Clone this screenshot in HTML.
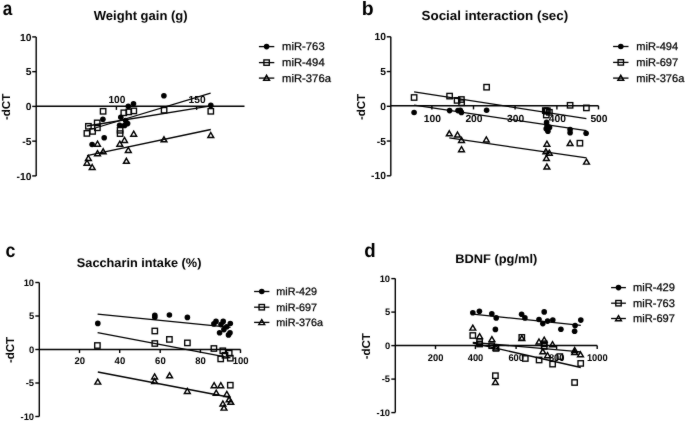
<!DOCTYPE html>
<html><head><meta charset="utf-8"><style>
html,body{margin:0;padding:0;background:#fff;}
svg{display:block;will-change:transform;}
svg text{font-family:"Liberation Sans", sans-serif;fill:#000;stroke:none;text-rendering:geometricPrecision;}
svg text.r{stroke:#000;stroke-width:0.25px;}
</style></head><body>
<svg width="685" height="421" viewBox="0 0 685 421">
<defs><filter id="bl" x="0" y="0" width="685" height="421" filterUnits="userSpaceOnUse"><feConvolveMatrix order="3" kernelMatrix="1 2 1 2 36 2 1 2 1" divisor="48" edgeMode="duplicate" preserveAlpha="false"/></filter></defs>
<rect width="685" height="421" fill="#fff"/>
<g stroke="#000" fill="none" filter="url(#bl)">
<text x="2.80" y="15.00" font-size="19.5" font-weight="bold" text-anchor="start"  textLength="9.54" lengthAdjust="spacingAndGlyphs">a</text>
<text x="93.79" y="20.30" font-size="13" font-weight="bold" text-anchor="start"  textLength="93.86" lengthAdjust="spacingAndGlyphs">Weight gain (g)</text>
<line x1="36.20" y1="36.90" x2="36.20" y2="175.90" stroke-width="1.4"/>
<line x1="32.20" y1="36.90" x2="36.20" y2="36.90" stroke-width="1.4"/>
<text x="31.40" y="40.50" font-size="10.3" font-weight="bold" text-anchor="end" >10</text>
<line x1="32.20" y1="71.65" x2="36.20" y2="71.65" stroke-width="1.4"/>
<text x="31.40" y="75.26" font-size="10.3" font-weight="bold" text-anchor="end" >5</text>
<line x1="32.20" y1="106.40" x2="36.20" y2="106.40" stroke-width="1.4"/>
<text x="31.40" y="110.01" font-size="10.3" font-weight="bold" text-anchor="end" >0</text>
<line x1="32.20" y1="141.15" x2="36.20" y2="141.15" stroke-width="1.4"/>
<text x="31.40" y="144.75" font-size="10.3" font-weight="bold" text-anchor="end" >-5</text>
<line x1="32.20" y1="175.90" x2="36.20" y2="175.90" stroke-width="1.4"/>
<text x="31.40" y="179.50" font-size="10.3" font-weight="bold" text-anchor="end" >-10</text>
<text transform="translate(10.00,106.90) rotate(-90)" font-size="11.5" font-weight="bold" text-anchor="middle">-dCT</text>
<line x1="36.20" y1="106.30" x2="244.50" y2="106.30" stroke-width="1.4"/>
<line x1="116.40" y1="106.30" x2="116.40" y2="109.90" stroke-width="1.4"/>
<text x="116.90" y="102.90" font-size="10.3" font-weight="bold" text-anchor="middle"  textLength="17.01" lengthAdjust="spacingAndGlyphs">100</text>
<line x1="196.60" y1="106.30" x2="196.60" y2="109.90" stroke-width="1.4"/>
<text x="197.10" y="102.90" font-size="10.3" font-weight="bold" text-anchor="middle"  textLength="17.01" lengthAdjust="spacingAndGlyphs">150</text>
<line x1="92.00" y1="129.00" x2="210.60" y2="93.20" stroke-width="1.3"/>
<line x1="87.00" y1="126.00" x2="210.80" y2="105.80" stroke-width="1.3"/>
<line x1="87.00" y1="155.60" x2="210.80" y2="129.50" stroke-width="1.3"/>
<circle cx="163.90" cy="95.80" r="2.80" fill="#000" stroke="none"/>
<circle cx="133.50" cy="103.70" r="2.80" fill="#000" stroke="none"/>
<circle cx="128.30" cy="106.30" r="2.80" fill="#000" stroke="none"/>
<circle cx="210.80" cy="105.40" r="2.80" fill="#000" stroke="none"/>
<circle cx="102.90" cy="119.30" r="2.80" fill="#000" stroke="none"/>
<circle cx="120.80" cy="117.20" r="2.80" fill="#000" stroke="none"/>
<circle cx="125.60" cy="120.60" r="2.80" fill="#000" stroke="none"/>
<circle cx="127.60" cy="123.60" r="2.80" fill="#000" stroke="none"/>
<circle cx="124.60" cy="125.40" r="2.80" fill="#000" stroke="none"/>
<circle cx="119.60" cy="125.30" r="2.80" fill="#000" stroke="none"/>
<circle cx="104.20" cy="137.70" r="2.80" fill="#000" stroke="none"/>
<circle cx="92.10" cy="144.50" r="2.80" fill="#000" stroke="none"/>
<rect x="100.40" y="108.60" width="5.40" height="5.40" fill="none" stroke-width="1.35"/>
<rect x="121.10" y="110.10" width="5.40" height="5.40" fill="none" stroke-width="1.35"/>
<rect x="126.10" y="109.20" width="5.40" height="5.40" fill="none" stroke-width="1.35"/>
<rect x="131.10" y="108.20" width="5.40" height="5.40" fill="none" stroke-width="1.35"/>
<rect x="161.40" y="107.50" width="5.40" height="5.40" fill="none" stroke-width="1.35"/>
<rect x="208.10" y="108.60" width="5.40" height="5.40" fill="none" stroke-width="1.35"/>
<rect x="94.50" y="120.20" width="5.40" height="5.40" fill="none" stroke-width="1.35"/>
<rect x="94.70" y="125.10" width="5.40" height="5.40" fill="none" stroke-width="1.35"/>
<rect x="85.70" y="123.60" width="5.40" height="5.40" fill="none" stroke-width="1.35"/>
<rect x="89.90" y="128.70" width="5.40" height="5.40" fill="none" stroke-width="1.35"/>
<rect x="84.20" y="130.70" width="5.40" height="5.40" fill="none" stroke-width="1.35"/>
<rect x="117.40" y="127.60" width="5.40" height="5.40" fill="none" stroke-width="1.35"/>
<rect x="117.40" y="130.90" width="5.40" height="5.40" fill="none" stroke-width="1.35"/>
<polygon points="133.70,131.21 136.61,136.22 130.79,136.22" fill="none" stroke-width="1.45" stroke-linejoin="miter"/>
<polygon points="210.80,132.51 213.71,137.52 207.89,137.52" fill="none" stroke-width="1.45" stroke-linejoin="miter"/>
<polygon points="164.00,136.81 166.91,141.82 161.09,141.82" fill="none" stroke-width="1.45" stroke-linejoin="miter"/>
<polygon points="124.50,137.41 127.41,142.42 121.59,142.42" fill="none" stroke-width="1.45" stroke-linejoin="miter"/>
<polygon points="119.80,141.21 122.71,146.22 116.89,146.22" fill="none" stroke-width="1.45" stroke-linejoin="miter"/>
<polygon points="97.50,141.21 100.41,146.22 94.59,146.22" fill="none" stroke-width="1.45" stroke-linejoin="miter"/>
<polygon points="128.30,147.41 131.21,152.42 125.39,152.42" fill="none" stroke-width="1.45" stroke-linejoin="miter"/>
<polygon points="103.20,148.81 106.11,153.82 100.29,153.82" fill="none" stroke-width="1.45" stroke-linejoin="miter"/>
<polygon points="97.50,150.71 100.41,155.72 94.59,155.72" fill="none" stroke-width="1.45" stroke-linejoin="miter"/>
<polygon points="88.40,155.51 91.31,160.52 85.49,160.52" fill="none" stroke-width="1.45" stroke-linejoin="miter"/>
<polygon points="87.00,160.21 89.91,165.22 84.09,165.22" fill="none" stroke-width="1.45" stroke-linejoin="miter"/>
<polygon points="92.20,164.51 95.11,169.52 89.29,169.52" fill="none" stroke-width="1.45" stroke-linejoin="miter"/>
<polygon points="126.40,158.31 129.31,163.32 123.49,163.32" fill="none" stroke-width="1.45" stroke-linejoin="miter"/>
<circle cx="266.60" cy="46.60" r="2.80" fill="#000" stroke="none"/>
<line x1="258.90" y1="46.60" x2="274.30" y2="46.60" stroke-width="1.3"/>
<text x="282.05" y="50.40" font-size="11" font-weight="normal" text-anchor="start" class="r" textLength="42.61" lengthAdjust="spacingAndGlyphs">miR-763</text>
<rect x="263.90" y="59.90" width="5.40" height="5.40" fill="none" stroke-width="1.35"/>
<line x1="258.90" y1="62.60" x2="274.30" y2="62.60" stroke-width="1.3"/>
<text x="282.05" y="66.40" font-size="11" font-weight="normal" text-anchor="start" class="r" textLength="42.61" lengthAdjust="spacingAndGlyphs">miR-494</text>
<polygon points="266.60,75.31 269.51,80.32 263.69,80.32" fill="none" stroke-width="1.45" stroke-linejoin="miter"/>
<line x1="258.90" y1="78.10" x2="274.30" y2="78.10" stroke-width="1.3"/>
<text x="282.05" y="81.90" font-size="11" font-weight="normal" text-anchor="start" class="r" textLength="48.88" lengthAdjust="spacingAndGlyphs">miR-376a</text>
<text x="361.71" y="14.80" font-size="19.5" font-weight="bold" text-anchor="start"  textLength="11.91" lengthAdjust="spacingAndGlyphs">b</text>
<text x="421.51" y="20.40" font-size="13.2" font-weight="bold" text-anchor="start"  textLength="146.75" lengthAdjust="spacingAndGlyphs">Social interaction (sec)</text>
<line x1="390.80" y1="36.80" x2="390.80" y2="175.80" stroke-width="1.4"/>
<line x1="386.80" y1="36.80" x2="390.80" y2="36.80" stroke-width="1.4"/>
<text x="386.00" y="40.40" font-size="10.3" font-weight="bold" text-anchor="end" >10</text>
<line x1="386.80" y1="71.55" x2="390.80" y2="71.55" stroke-width="1.4"/>
<text x="386.00" y="75.16" font-size="10.3" font-weight="bold" text-anchor="end" >5</text>
<line x1="386.80" y1="106.30" x2="390.80" y2="106.30" stroke-width="1.4"/>
<text x="386.00" y="109.91" font-size="10.3" font-weight="bold" text-anchor="end" >0</text>
<line x1="386.80" y1="141.05" x2="390.80" y2="141.05" stroke-width="1.4"/>
<text x="386.00" y="144.66" font-size="10.3" font-weight="bold" text-anchor="end" >-5</text>
<line x1="386.80" y1="175.80" x2="390.80" y2="175.80" stroke-width="1.4"/>
<text x="386.00" y="179.41" font-size="10.3" font-weight="bold" text-anchor="end" >-10</text>
<text transform="translate(364.70,107.00) rotate(-90)" font-size="11.5" font-weight="bold" text-anchor="middle">-dCT</text>
<line x1="390.80" y1="105.80" x2="598.50" y2="105.80" stroke-width="1.4"/>
<line x1="431.90" y1="105.80" x2="431.90" y2="109.40" stroke-width="1.4"/>
<text x="432.40" y="121.60" font-size="10.3" font-weight="bold" text-anchor="middle"  textLength="17.19" lengthAdjust="spacingAndGlyphs">100</text>
<line x1="473.50" y1="105.80" x2="473.50" y2="109.40" stroke-width="1.4"/>
<text x="474.00" y="121.60" font-size="10.3" font-weight="bold" text-anchor="middle"  textLength="17.19" lengthAdjust="spacingAndGlyphs">200</text>
<line x1="515.10" y1="105.80" x2="515.10" y2="109.40" stroke-width="1.4"/>
<text x="515.60" y="121.60" font-size="10.3" font-weight="bold" text-anchor="middle"  textLength="17.19" lengthAdjust="spacingAndGlyphs">300</text>
<line x1="556.90" y1="105.80" x2="556.90" y2="109.40" stroke-width="1.4"/>
<text x="557.40" y="121.60" font-size="10.3" font-weight="bold" text-anchor="middle"  textLength="17.19" lengthAdjust="spacingAndGlyphs">400</text>
<line x1="598.50" y1="105.80" x2="598.50" y2="109.40" stroke-width="1.4"/>
<text x="599.00" y="121.60" font-size="10.3" font-weight="bold" text-anchor="middle"  textLength="17.19" lengthAdjust="spacingAndGlyphs">500</text>
<line x1="414.10" y1="91.80" x2="586.40" y2="118.70" stroke-width="1.3"/>
<line x1="414.10" y1="105.20" x2="586.40" y2="130.70" stroke-width="1.3"/>
<line x1="449.30" y1="137.90" x2="586.50" y2="157.90" stroke-width="1.3"/>
<circle cx="414.10" cy="112.50" r="2.80" fill="#000" stroke="none"/>
<circle cx="449.60" cy="110.60" r="2.80" fill="#000" stroke="none"/>
<circle cx="458.00" cy="110.60" r="2.80" fill="#000" stroke="none"/>
<circle cx="460.30" cy="110.40" r="2.80" fill="#000" stroke="none"/>
<circle cx="461.40" cy="112.40" r="2.80" fill="#000" stroke="none"/>
<circle cx="486.60" cy="110.20" r="2.80" fill="#000" stroke="none"/>
<circle cx="546.60" cy="122.40" r="2.80" fill="#000" stroke="none"/>
<circle cx="547.00" cy="125.80" r="2.80" fill="#000" stroke="none"/>
<circle cx="546.20" cy="128.70" r="2.80" fill="#000" stroke="none"/>
<circle cx="547.90" cy="131.20" r="2.80" fill="#000" stroke="none"/>
<circle cx="549.50" cy="127.40" r="2.80" fill="#000" stroke="none"/>
<circle cx="570.10" cy="129.50" r="2.80" fill="#000" stroke="none"/>
<circle cx="570.10" cy="132.80" r="2.80" fill="#000" stroke="none"/>
<circle cx="586.10" cy="133.20" r="2.80" fill="#000" stroke="none"/>
<rect x="411.40" y="94.80" width="5.40" height="5.40" fill="none" stroke-width="1.35"/>
<rect x="446.90" y="93.40" width="5.40" height="5.40" fill="none" stroke-width="1.35"/>
<rect x="454.40" y="97.70" width="5.40" height="5.40" fill="none" stroke-width="1.35"/>
<rect x="458.70" y="96.80" width="5.40" height="5.40" fill="none" stroke-width="1.35"/>
<rect x="458.90" y="100.00" width="5.40" height="5.40" fill="none" stroke-width="1.35"/>
<rect x="483.90" y="84.50" width="5.40" height="5.40" fill="none" stroke-width="1.35"/>
<rect x="542.60" y="107.90" width="5.40" height="5.40" fill="none" stroke-width="1.35"/>
<rect x="543.70" y="108.50" width="5.40" height="5.40" fill="none" stroke-width="1.35"/>
<rect x="544.70" y="108.10" width="5.40" height="5.40" fill="none" stroke-width="1.35"/>
<rect x="546.70" y="109.60" width="5.40" height="5.40" fill="none" stroke-width="1.35"/>
<rect x="543.60" y="112.30" width="5.40" height="5.40" fill="none" stroke-width="1.35"/>
<rect x="567.40" y="102.60" width="5.40" height="5.40" fill="none" stroke-width="1.35"/>
<rect x="583.70" y="105.20" width="5.40" height="5.40" fill="none" stroke-width="1.35"/>
<rect x="577.20" y="140.50" width="5.40" height="5.40" fill="none" stroke-width="1.35"/>
<polygon points="449.30,130.81 452.21,135.82 446.39,135.82" fill="none" stroke-width="1.45" stroke-linejoin="miter"/>
<polygon points="457.50,132.01 460.41,137.02 454.59,137.02" fill="none" stroke-width="1.45" stroke-linejoin="miter"/>
<polygon points="461.50,137.41 464.41,142.42 458.59,142.42" fill="none" stroke-width="1.45" stroke-linejoin="miter"/>
<polygon points="461.50,146.71 464.41,151.72 458.59,151.72" fill="none" stroke-width="1.45" stroke-linejoin="miter"/>
<polygon points="486.30,136.91 489.21,141.92 483.39,141.92" fill="none" stroke-width="1.45" stroke-linejoin="miter"/>
<polygon points="546.90,141.21 549.81,146.22 543.99,146.22" fill="none" stroke-width="1.45" stroke-linejoin="miter"/>
<polygon points="545.90,148.81 548.81,153.82 542.99,153.82" fill="none" stroke-width="1.45" stroke-linejoin="miter"/>
<polygon points="549.30,150.21 552.21,155.22 546.39,155.22" fill="none" stroke-width="1.45" stroke-linejoin="miter"/>
<polygon points="546.40,155.51 549.31,160.52 543.49,160.52" fill="none" stroke-width="1.45" stroke-linejoin="miter"/>
<polygon points="546.90,164.01 549.81,169.02 543.99,169.02" fill="none" stroke-width="1.45" stroke-linejoin="miter"/>
<polygon points="570.10,140.51 573.01,145.52 567.19,145.52" fill="none" stroke-width="1.45" stroke-linejoin="miter"/>
<polygon points="586.50,159.11 589.41,164.12 583.59,164.12" fill="none" stroke-width="1.45" stroke-linejoin="miter"/>
<circle cx="620.80" cy="46.50" r="2.80" fill="#000" stroke="none"/>
<line x1="613.10" y1="46.50" x2="628.50" y2="46.50" stroke-width="1.3"/>
<text x="636.26" y="50.10" font-size="11" font-weight="normal" text-anchor="start" class="r" textLength="41.98" lengthAdjust="spacingAndGlyphs">miR-494</text>
<rect x="618.10" y="59.70" width="5.40" height="5.40" fill="none" stroke-width="1.35"/>
<line x1="613.10" y1="62.40" x2="628.50" y2="62.40" stroke-width="1.3"/>
<text x="636.26" y="66.00" font-size="11" font-weight="normal" text-anchor="start" class="r" textLength="41.98" lengthAdjust="spacingAndGlyphs">miR-697</text>
<polygon points="620.80,75.31 623.71,80.32 617.89,80.32" fill="none" stroke-width="1.45" stroke-linejoin="miter"/>
<line x1="613.10" y1="78.10" x2="628.50" y2="78.10" stroke-width="1.3"/>
<text x="636.26" y="81.70" font-size="11" font-weight="normal" text-anchor="start" class="r" textLength="48.16" lengthAdjust="spacingAndGlyphs">miR-376a</text>
<text x="5.41" y="256.50" font-size="19.5" font-weight="bold" text-anchor="start"  textLength="9.87" lengthAdjust="spacingAndGlyphs">c</text>
<text x="76.83" y="266.80" font-size="12.6" font-weight="bold" text-anchor="start"  textLength="124.60" lengthAdjust="spacingAndGlyphs">Saccharin intake (%)</text>
<line x1="39.30" y1="282.50" x2="39.30" y2="416.50" stroke-width="1.4"/>
<line x1="35.30" y1="282.50" x2="39.30" y2="282.50" stroke-width="1.4"/>
<text x="34.10" y="285.79" font-size="9.4" font-weight="bold" text-anchor="end" >10</text>
<line x1="35.30" y1="316.00" x2="39.30" y2="316.00" stroke-width="1.4"/>
<text x="34.10" y="319.29" font-size="9.4" font-weight="bold" text-anchor="end" >5</text>
<line x1="35.30" y1="349.50" x2="39.30" y2="349.50" stroke-width="1.4"/>
<text x="34.10" y="352.79" font-size="9.4" font-weight="bold" text-anchor="end" >0</text>
<line x1="35.30" y1="383.00" x2="39.30" y2="383.00" stroke-width="1.4"/>
<text x="34.10" y="386.29" font-size="9.4" font-weight="bold" text-anchor="end" >-5</text>
<line x1="35.30" y1="416.50" x2="39.30" y2="416.50" stroke-width="1.4"/>
<text x="34.10" y="419.79" font-size="9.4" font-weight="bold" text-anchor="end" >-10</text>
<text transform="translate(14.40,350.00) rotate(-90)" font-size="11.5" font-weight="bold" text-anchor="middle">-dCT</text>
<line x1="39.30" y1="349.45" x2="240.50" y2="349.45" stroke-width="1.4"/>
<line x1="79.50" y1="349.45" x2="79.50" y2="353.05" stroke-width="1.4"/>
<text x="79.70" y="364.00" font-size="9.8" font-weight="bold" text-anchor="middle"  textLength="10.57" lengthAdjust="spacingAndGlyphs">20</text>
<line x1="119.70" y1="349.45" x2="119.70" y2="353.05" stroke-width="1.4"/>
<text x="119.90" y="364.00" font-size="9.8" font-weight="bold" text-anchor="middle"  textLength="10.57" lengthAdjust="spacingAndGlyphs">40</text>
<line x1="160.20" y1="349.45" x2="160.20" y2="353.05" stroke-width="1.4"/>
<text x="160.40" y="364.00" font-size="9.8" font-weight="bold" text-anchor="middle"  textLength="10.57" lengthAdjust="spacingAndGlyphs">60</text>
<line x1="200.40" y1="349.45" x2="200.40" y2="353.05" stroke-width="1.4"/>
<text x="200.60" y="364.00" font-size="9.8" font-weight="bold" text-anchor="middle"  textLength="10.57" lengthAdjust="spacingAndGlyphs">80</text>
<line x1="240.50" y1="349.45" x2="240.50" y2="353.05" stroke-width="1.4"/>
<text x="240.70" y="364.00" font-size="9.8" font-weight="bold" text-anchor="middle"  textLength="15.86" lengthAdjust="spacingAndGlyphs">100</text>
<line x1="97.60" y1="314.20" x2="230.50" y2="327.40" stroke-width="1.3"/>
<line x1="97.60" y1="332.60" x2="230.50" y2="357.80" stroke-width="1.3"/>
<line x1="97.80" y1="372.00" x2="230.80" y2="397.50" stroke-width="1.3"/>
<circle cx="97.80" cy="323.40" r="2.80" fill="#000" stroke="none"/>
<circle cx="154.80" cy="315.30" r="2.80" fill="#000" stroke="none"/>
<circle cx="154.80" cy="317.30" r="2.80" fill="#000" stroke="none"/>
<circle cx="169.40" cy="315.00" r="2.80" fill="#000" stroke="none"/>
<circle cx="187.40" cy="317.40" r="2.80" fill="#000" stroke="none"/>
<circle cx="216.00" cy="321.40" r="2.80" fill="#000" stroke="none"/>
<circle cx="213.90" cy="323.90" r="2.80" fill="#000" stroke="none"/>
<circle cx="223.20" cy="321.40" r="2.80" fill="#000" stroke="none"/>
<circle cx="221.00" cy="324.60" r="2.80" fill="#000" stroke="none"/>
<circle cx="230.30" cy="323.50" r="2.80" fill="#000" stroke="none"/>
<circle cx="226.70" cy="326.80" r="2.80" fill="#000" stroke="none"/>
<circle cx="223.90" cy="329.60" r="2.80" fill="#000" stroke="none"/>
<circle cx="219.60" cy="332.80" r="2.80" fill="#000" stroke="none"/>
<circle cx="230.00" cy="332.80" r="2.80" fill="#000" stroke="none"/>
<circle cx="228.50" cy="334.90" r="2.80" fill="#000" stroke="none"/>
<rect x="94.70" y="342.80" width="5.40" height="5.40" fill="none" stroke-width="1.35"/>
<rect x="152.10" y="328.30" width="5.40" height="5.40" fill="none" stroke-width="1.35"/>
<rect x="152.10" y="340.80" width="5.40" height="5.40" fill="none" stroke-width="1.35"/>
<rect x="166.70" y="336.70" width="5.40" height="5.40" fill="none" stroke-width="1.35"/>
<rect x="184.70" y="340.20" width="5.40" height="5.40" fill="none" stroke-width="1.35"/>
<rect x="211.20" y="345.80" width="5.40" height="5.40" fill="none" stroke-width="1.35"/>
<rect x="220.10" y="348.10" width="5.40" height="5.40" fill="none" stroke-width="1.35"/>
<rect x="226.50" y="350.50" width="5.40" height="5.40" fill="none" stroke-width="1.35"/>
<rect x="222.30" y="352.60" width="5.40" height="5.40" fill="none" stroke-width="1.35"/>
<rect x="218.00" y="356.20" width="5.40" height="5.40" fill="none" stroke-width="1.35"/>
<rect x="227.60" y="355.50" width="5.40" height="5.40" fill="none" stroke-width="1.35"/>
<rect x="227.60" y="382.50" width="5.40" height="5.40" fill="none" stroke-width="1.35"/>
<polygon points="97.80,379.11 100.71,384.12 94.89,384.12" fill="none" stroke-width="1.45" stroke-linejoin="miter"/>
<polygon points="154.60,373.91 157.51,378.92 151.69,378.92" fill="none" stroke-width="1.45" stroke-linejoin="miter"/>
<polygon points="154.60,378.61 157.51,383.62 151.69,383.62" fill="none" stroke-width="1.45" stroke-linejoin="miter"/>
<polygon points="169.60,372.81 172.51,377.82 166.69,377.82" fill="none" stroke-width="1.45" stroke-linejoin="miter"/>
<polygon points="187.30,388.41 190.21,393.42 184.39,393.42" fill="none" stroke-width="1.45" stroke-linejoin="miter"/>
<polygon points="214.10,382.71 217.01,387.72 211.19,387.72" fill="none" stroke-width="1.45" stroke-linejoin="miter"/>
<polygon points="220.80,382.71 223.71,387.72 217.89,387.72" fill="none" stroke-width="1.45" stroke-linejoin="miter"/>
<polygon points="216.20,390.21 219.11,395.22 213.29,395.22" fill="none" stroke-width="1.45" stroke-linejoin="miter"/>
<polygon points="226.80,391.41 229.71,396.42 223.89,396.42" fill="none" stroke-width="1.45" stroke-linejoin="miter"/>
<polygon points="229.10,396.81 232.01,401.82 226.19,401.82" fill="none" stroke-width="1.45" stroke-linejoin="miter"/>
<polygon points="230.80,399.31 233.71,404.32 227.89,404.32" fill="none" stroke-width="1.45" stroke-linejoin="miter"/>
<polygon points="222.90,401.01 225.81,406.02 219.99,406.02" fill="none" stroke-width="1.45" stroke-linejoin="miter"/>
<polygon points="224.00,405.11 226.91,410.12 221.09,410.12" fill="none" stroke-width="1.45" stroke-linejoin="miter"/>
<circle cx="261.75" cy="291.50" r="2.80" fill="#000" stroke="none"/>
<line x1="254.10" y1="291.50" x2="269.40" y2="291.50" stroke-width="1.3"/>
<text x="276.28" y="295.40" font-size="10.7" font-weight="normal" text-anchor="start" class="r" textLength="40.84" lengthAdjust="spacingAndGlyphs">miR-429</text>
<rect x="259.05" y="304.50" width="5.40" height="5.40" fill="none" stroke-width="1.35"/>
<line x1="254.10" y1="307.20" x2="269.40" y2="307.20" stroke-width="1.3"/>
<text x="276.28" y="311.10" font-size="10.7" font-weight="normal" text-anchor="start" class="r" textLength="40.84" lengthAdjust="spacingAndGlyphs">miR-697</text>
<polygon points="261.75,319.61 264.66,324.62 258.84,324.62" fill="none" stroke-width="1.45" stroke-linejoin="miter"/>
<line x1="254.10" y1="322.40" x2="269.40" y2="322.40" stroke-width="1.3"/>
<text x="276.28" y="326.30" font-size="10.7" font-weight="normal" text-anchor="start" class="r" textLength="46.85" lengthAdjust="spacingAndGlyphs">miR-376a</text>
<text x="364.23" y="256.60" font-size="19.5" font-weight="bold" text-anchor="start"  textLength="11.43" lengthAdjust="spacingAndGlyphs">d</text>
<text x="455.24" y="262.50" font-size="12.5" font-weight="bold" text-anchor="start"  textLength="82.10" lengthAdjust="spacingAndGlyphs">BDNF (pg/ml)</text>
<line x1="395.30" y1="278.60" x2="395.30" y2="412.60" stroke-width="1.4"/>
<line x1="391.30" y1="278.60" x2="395.30" y2="278.60" stroke-width="1.4"/>
<text x="390.10" y="281.89" font-size="9.4" font-weight="bold" text-anchor="end" >10</text>
<line x1="391.30" y1="312.10" x2="395.30" y2="312.10" stroke-width="1.4"/>
<text x="390.10" y="315.39" font-size="9.4" font-weight="bold" text-anchor="end" >5</text>
<line x1="391.30" y1="345.60" x2="395.30" y2="345.60" stroke-width="1.4"/>
<text x="390.10" y="348.89" font-size="9.4" font-weight="bold" text-anchor="end" >0</text>
<line x1="391.30" y1="379.10" x2="395.30" y2="379.10" stroke-width="1.4"/>
<text x="390.10" y="382.39" font-size="9.4" font-weight="bold" text-anchor="end" >-5</text>
<line x1="391.30" y1="412.60" x2="395.30" y2="412.60" stroke-width="1.4"/>
<text x="390.10" y="415.89" font-size="9.4" font-weight="bold" text-anchor="end" >-10</text>
<text transform="translate(370.00,346.20) rotate(-90)" font-size="11.5" font-weight="bold" text-anchor="middle">-dCT</text>
<line x1="395.30" y1="345.50" x2="597.20" y2="345.50" stroke-width="1.4"/>
<line x1="435.50" y1="345.50" x2="435.50" y2="349.10" stroke-width="1.4"/>
<text x="435.60" y="360.60" font-size="9.8" font-weight="bold" text-anchor="middle"  textLength="15.53" lengthAdjust="spacingAndGlyphs">200</text>
<line x1="475.40" y1="345.50" x2="475.40" y2="349.10" stroke-width="1.4"/>
<text x="475.50" y="360.60" font-size="9.8" font-weight="bold" text-anchor="middle"  textLength="15.53" lengthAdjust="spacingAndGlyphs">400</text>
<line x1="516.10" y1="345.50" x2="516.10" y2="349.10" stroke-width="1.4"/>
<text x="516.20" y="360.60" font-size="9.8" font-weight="bold" text-anchor="middle"  textLength="15.53" lengthAdjust="spacingAndGlyphs">600</text>
<line x1="556.60" y1="345.50" x2="556.60" y2="349.10" stroke-width="1.4"/>
<text x="556.70" y="360.60" font-size="9.8" font-weight="bold" text-anchor="middle"  textLength="15.53" lengthAdjust="spacingAndGlyphs">800</text>
<line x1="597.20" y1="345.50" x2="597.20" y2="349.10" stroke-width="1.4"/>
<text x="597.30" y="360.60" font-size="9.8" font-weight="bold" text-anchor="middle"  textLength="20.71" lengthAdjust="spacingAndGlyphs">1000</text>
<line x1="472.80" y1="314.20" x2="580.80" y2="325.30" stroke-width="1.3"/>
<line x1="472.80" y1="343.00" x2="580.80" y2="367.50" stroke-width="1.3"/>
<line x1="472.80" y1="342.40" x2="580.80" y2="351.90" stroke-width="1.3"/>
<circle cx="472.80" cy="312.80" r="2.80" fill="#000" stroke="none"/>
<circle cx="479.40" cy="311.20" r="2.80" fill="#000" stroke="none"/>
<circle cx="491.80" cy="313.80" r="2.80" fill="#000" stroke="none"/>
<circle cx="496.20" cy="317.90" r="2.80" fill="#000" stroke="none"/>
<circle cx="495.40" cy="329.40" r="2.80" fill="#000" stroke="none"/>
<circle cx="521.60" cy="314.30" r="2.80" fill="#000" stroke="none"/>
<circle cx="524.90" cy="317.90" r="2.80" fill="#000" stroke="none"/>
<circle cx="544.20" cy="311.90" r="2.80" fill="#000" stroke="none"/>
<circle cx="539.00" cy="319.50" r="2.80" fill="#000" stroke="none"/>
<circle cx="542.80" cy="323.60" r="2.80" fill="#000" stroke="none"/>
<circle cx="547.60" cy="321.10" r="2.80" fill="#000" stroke="none"/>
<circle cx="552.80" cy="320.10" r="2.80" fill="#000" stroke="none"/>
<circle cx="560.90" cy="329.30" r="2.80" fill="#000" stroke="none"/>
<circle cx="575.10" cy="325.60" r="2.80" fill="#000" stroke="none"/>
<circle cx="574.60" cy="331.30" r="2.80" fill="#000" stroke="none"/>
<circle cx="580.80" cy="320.10" r="2.80" fill="#000" stroke="none"/>
<rect x="470.10" y="332.80" width="5.40" height="5.40" fill="none" stroke-width="1.35"/>
<rect x="476.90" y="338.90" width="5.40" height="5.40" fill="none" stroke-width="1.35"/>
<rect x="476.90" y="341.30" width="5.40" height="5.40" fill="none" stroke-width="1.35"/>
<rect x="489.00" y="343.00" width="5.40" height="5.40" fill="none" stroke-width="1.35"/>
<rect x="493.30" y="345.70" width="5.40" height="5.40" fill="none" stroke-width="1.35"/>
<rect x="519.10" y="334.70" width="5.40" height="5.40" fill="none" stroke-width="1.35"/>
<rect x="522.60" y="355.80" width="5.40" height="5.40" fill="none" stroke-width="1.35"/>
<rect x="536.40" y="357.30" width="5.40" height="5.40" fill="none" stroke-width="1.35"/>
<rect x="541.50" y="341.10" width="5.40" height="5.40" fill="none" stroke-width="1.35"/>
<rect x="541.50" y="343.70" width="5.40" height="5.40" fill="none" stroke-width="1.35"/>
<rect x="549.90" y="361.40" width="5.40" height="5.40" fill="none" stroke-width="1.35"/>
<rect x="557.10" y="353.90" width="5.40" height="5.40" fill="none" stroke-width="1.35"/>
<polygon points="574.60,349.51 577.51,354.52 571.69,354.52" fill="none" stroke-width="1.45" stroke-linejoin="miter"/>
<rect x="578.00" y="360.70" width="5.40" height="5.40" fill="none" stroke-width="1.35"/>
<rect x="492.70" y="373.00" width="5.40" height="5.40" fill="none" stroke-width="1.35"/>
<rect x="571.90" y="379.80" width="5.40" height="5.40" fill="none" stroke-width="1.35"/>
<polygon points="472.80,325.11 475.71,330.12 469.89,330.12" fill="none" stroke-width="1.45" stroke-linejoin="miter"/>
<polygon points="479.60,333.61 482.51,338.62 476.69,338.62" fill="none" stroke-width="1.45" stroke-linejoin="miter"/>
<polygon points="491.90,336.61 494.81,341.62 488.99,341.62" fill="none" stroke-width="1.45" stroke-linejoin="miter"/>
<polygon points="496.00,345.01 498.91,350.02 493.09,350.02" fill="none" stroke-width="1.45" stroke-linejoin="miter"/>
<polygon points="521.80,335.61 524.71,340.62 518.89,340.62" fill="none" stroke-width="1.45" stroke-linejoin="miter"/>
<polygon points="539.00,339.01 541.91,344.02 536.09,344.02" fill="none" stroke-width="1.45" stroke-linejoin="miter"/>
<polygon points="544.20,337.21 547.11,342.22 541.29,342.22" fill="none" stroke-width="1.45" stroke-linejoin="miter"/>
<polygon points="552.50,341.71 555.41,346.72 549.59,346.72" fill="none" stroke-width="1.45" stroke-linejoin="miter"/>
<polygon points="542.80,348.81 545.71,353.82 539.89,353.82" fill="none" stroke-width="1.45" stroke-linejoin="miter"/>
<polygon points="547.50,352.71 550.41,357.72 544.59,357.72" fill="none" stroke-width="1.45" stroke-linejoin="miter"/>
<polygon points="574.70,347.51 577.61,352.52 571.79,352.52" fill="none" stroke-width="1.45" stroke-linejoin="miter"/>
<polygon points="580.50,351.81 583.41,356.82 577.59,356.82" fill="none" stroke-width="1.45" stroke-linejoin="miter"/>
<polygon points="495.40,379.41 498.31,384.42 492.49,384.42" fill="none" stroke-width="1.45" stroke-linejoin="miter"/>
<circle cx="618.50" cy="287.60" r="2.80" fill="#000" stroke="none"/>
<line x1="611.10" y1="287.60" x2="625.90" y2="287.60" stroke-width="1.3"/>
<text x="632.96" y="291.40" font-size="11" font-weight="normal" text-anchor="start" class="r" textLength="41.98" lengthAdjust="spacingAndGlyphs">miR-429</text>
<rect x="615.80" y="300.50" width="5.40" height="5.40" fill="none" stroke-width="1.35"/>
<line x1="611.10" y1="303.20" x2="625.90" y2="303.20" stroke-width="1.3"/>
<text x="632.96" y="307.00" font-size="11" font-weight="normal" text-anchor="start" class="r" textLength="41.98" lengthAdjust="spacingAndGlyphs">miR-763</text>
<polygon points="618.50,315.71 621.41,320.72 615.59,320.72" fill="none" stroke-width="1.45" stroke-linejoin="miter"/>
<line x1="611.10" y1="318.50" x2="625.90" y2="318.50" stroke-width="1.3"/>
<text x="632.96" y="322.30" font-size="11" font-weight="normal" text-anchor="start" class="r" textLength="41.98" lengthAdjust="spacingAndGlyphs">miR-697</text>
</g></svg></body></html>
